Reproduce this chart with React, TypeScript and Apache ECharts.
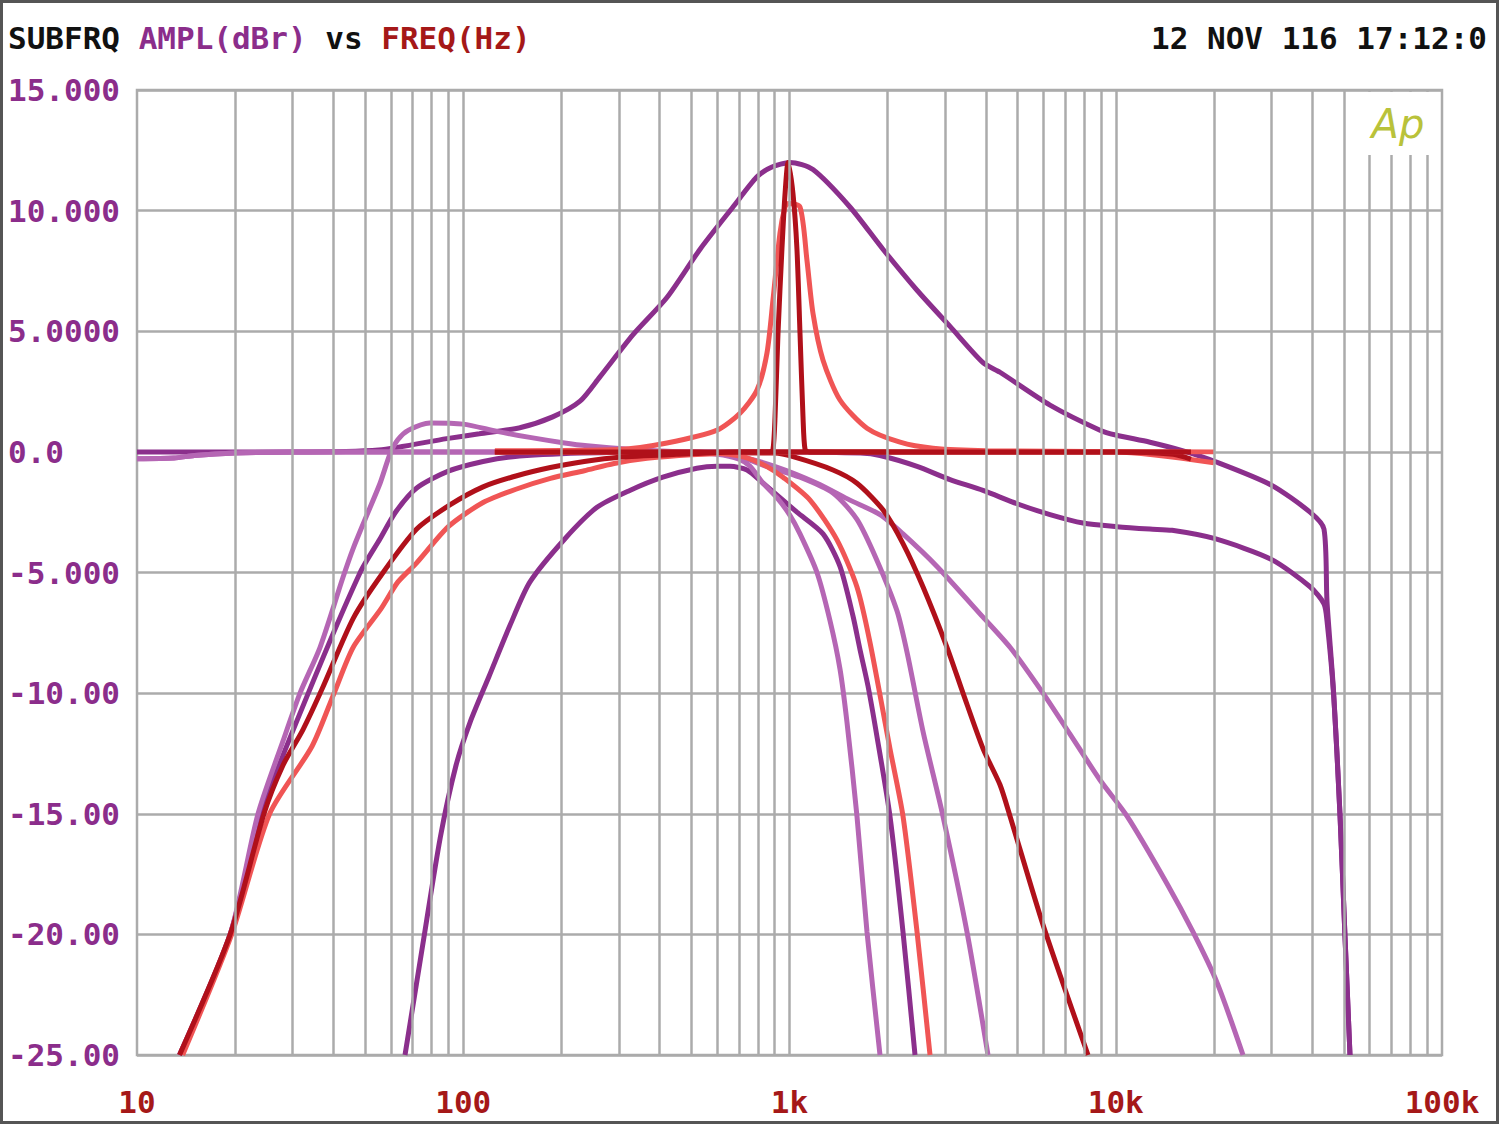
import React, { useEffect, useRef } from "react";
import * as echarts from "echarts";

// ---------- axis ticks ----------
const xTickValues = [10, 100, 1000, 10000, 100000];
const xTickLabels = ["10", "100", "1k", "10k", "100k"];
const yTickValues = [15, 10, 5, 0, -5, -10, -15, -20, -25];
const yTickLabels = ["15.000", "10.000", "5.0000", "0.0", "-5.000", "-10.00", "-15.00", "-20.00", "-25.00"];
const gridFreqs = [
  20, 30, 40, 50, 60, 70, 80, 90, 100,
  200, 300, 400, 500, 600, 700, 800, 900, 1000,
  2000, 3000, 4000, 5000, 6000, 7000, 8000, 9000, 10000,
  20000, 30000, 40000, 50000, 60000, 70000, 80000, 90000,
];

// ---------- series values: [frequency Hz, level dBr] ----------
// dark purple: wide-Q peak
const peakWide = [[10,0],[30,0],[55,0.08],[89,0.55],[112,0.75],[149,1.0],[188,1.45],[228,2.1],[262,3.1],[331,4.85],[421,6.4],[532,8.4],[671,10.15],[795,11.4],[880,11.8],[1004,12.0],[1180,11.7],[1532,10.15],[1934,8.4],[2460,6.7],[3105,5.2],[3919,3.7],[4418,3.3],[6288,1.94],[8948,0.9],[10000,0.7],[12730,0.4],[16000,0.05],[20150,-0.4],[29920,-1.37],[39400,-2.5],[43480,-3.2],[44410,-6.2],[46500,-9.9],[48700,-15.1],[50430,-20.1],[52240,-25]];
// dark purple: high-pass with high-frequency droop
const hpPurple = [[13.5,-25],[19.3,-20],[24,-15],[33.5,-10],[48.3,-5],[55.6,-3.6],[62,-2.5],[72,-1.5],[90,-0.8],[115,-0.4],[142,-0.2],[230,-0.05],[400,0],[1000,0],[1650,-0.05],[1894,-0.15],[2460,-0.6],[3105,-1.15],[3919,-1.6],[4982,-2.15],[6288,-2.6],[7936,-2.95],[10070,-3.1],[12730,-3.2],[14880,-3.25],[20150,-3.6],[29920,-4.45],[39500,-5.6],[43480,-6.3],[44410,-7.0],[46500,-10],[48700,-15.1],[50430,-20.1],[52240,-25]];
// dark purple: band-pass
const bpPurple = [[66.3,-25],[75,-20.5],[85,-16],[95,-13],[105,-11.2],[120,-9.3],[139,-7.2],[160,-5.4],[205,-3.6],[257,-2.3],[324,-1.6],[409,-1.05],[520,-0.68],[600,-0.6],[657,-0.6],[741,-0.75],[830,-1.3],[1054,-2.5],[1267,-3.4],[1428,-4.75],[1565,-6.8],[1645,-8.2],[1740,-9.7],[1854,-11.8],[2032,-15.1],[2228,-19.9],[2425,-25]];
// orchid: high-pass with bump, then low-pass
const bpOrchid = [[13.5,-25],[19.3,-20],[23.5,-15],[28,-12],[31.6,-10],[36.4,-8.1],[42.8,-5.2],[46,-4],[50,-2.8],[55.6,-1.3],[59.6,-0.1],[63,0.5],[68,0.9],[79,1.2],[100,1.15],[127,0.85],[160,0.6],[202,0.38],[240,0.25],[330,0.1],[460,0],[600,-0.1],[700,-0.3],[757,-0.6],[830,-1.3],[915,-1.9],[1000,-2.6],[1077,-3.4],[1214,-5.0],[1331,-7.0],[1428,-9.0],[1500,-11.2],[1610,-15.1],[1728,-19.9],[1894,-25]];
// orchid: low-pass 2
const lpOrchid2 = [[10,-0.28],[13,-0.25],[15,-0.15],[20,-0.05],[30,0],[500,0],[700,-0.2],[850,-0.6],[1077,-1.05],[1359,-1.7],[1610,-2.8],[1854,-4.5],[2136,-6.6],[2300,-8.4],[2567,-11.6],[2954,-15.1],[3500,-19.9],[4059,-25]];
// orchid: low-pass 3
const lpOrchid3 = [[10,-0.28],[13,-0.25],[15,-0.15],[20,-0.05],[30,0],[500,0],[700,-0.2],[900,-0.6],[1214,-1.3],[1532,-2.0],[1894,-2.6],[2228,-3.4],[2832,-4.75],[3919,-6.85],[4742,-8.1],[5984,-10.0],[7240,-11.7],[8948,-13.6],[10830,-15.1],[14360,-17.9],[17250,-19.9],[20440,-22.0],[24550,-25]];
// dark red: high-pass
const hpRed = [[13.5,-25],[19.3,-20],[24.5,-15],[28,-13],[32.3,-11.5],[37,-9.8],[46,-6.9],[56.8,-5],[72,-3.2],[91,-2.2],[115,-1.45],[145,-1.0],[185,-0.65],[235,-0.4],[300,-0.22],[450,-0.1],[700,0],[10000,0],[15000,-0.1],[17000,-0.3]];
// dark red: narrow-Q peak
const peakNarrow = [[125,0],[870,0],[890,0.1],[903,1.45],[922,4.9],[948,8.4],[969,10.7],[990,12.0],[1025,10.7],[1054,8.4],[1077,4.9],[1100,1.45],[1116,0.1],[1150,0],[17000,0]];
// dark red: low-pass
const lpRed = [[125,0],[900,-0.05],[1025,-0.2],[1359,-0.75],[1610,-1.3],[1934,-2.4],[2228,-3.8],[2567,-5.6],[3039,-8.1],[3403,-10],[3919,-12.3],[4418,-13.8],[4742,-15.1],[5984,-19.6],[8222,-25]];
// salmon: high-pass
const hpSalmon = [[13.8,-25],[19.5,-20],[25.5,-15],[34.4,-12.2],[40.2,-10],[46,-8.1],[56,-6.5],[63,-5.4],[72,-4.6],[90,-3.1],[115,-2.1],[145,-1.55],[185,-1.1],[235,-0.78],[290,-0.48],[366,-0.27],[500,-0.12],[800,0],[10000,0],[20000,-0.45]];
// salmon: medium-Q peak
const peakMedium = [[125,0.05],[300,0.1],[421,0.37],[600,0.9],[705,1.6],[795,2.56],[853,4.1],[890,6.3],[935,9.07],[969,10.15],[990,10.3],[1077,10.15],[1131,7.95],[1180,5.75],[1267,3.8],[1428,2.15],[1728,0.98],[2182,0.4],[2754,0.15],[4000,0.05],[20000,0]];
// salmon: low-pass
const lpSalmon = [[125,0],[500,0],[650,-0.1],[741,-0.25],[850,-0.6],[955,-1.05],[1156,-2.0],[1398,-3.65],[1610,-5.6],[1765,-7.9],[2032,-12.3],[2228,-15.1],[2460,-19.9],[2696,-25]];

const PURPLE = "#8B2F8C";
const ORCHID = "#B566B4";
const DARKRED = "#B0101A";
const SALMON = "#F05555";
const GRID = "#ABABAB";
const MONO = '"DejaVu Sans Mono", "Liberation Mono", monospace';

const curves: [any[], string][] = [
  [bpPurple, PURPLE],
  [hpPurple, PURPLE],
  [peakWide, PURPLE],
  [lpOrchid3, ORCHID],
  [lpOrchid2, ORCHID],
  [bpOrchid, ORCHID],
  [lpRed, DARKRED],
  [lpSalmon, SALMON],
  [hpSalmon, SALMON],
  [hpRed, DARKRED],
  [peakMedium, SALMON],
  [peakNarrow, DARKRED],
];

export default function App() {
  const ref = useRef<HTMLDivElement>(null);
  useEffect(() => {
    if (!ref.current) return;
    const chart = echarts.init(ref.current, null, { renderer: "svg" });
    const series: any[] = [
      {
        type: "line",
        data: [],
        silent: true,
        z: 1,
        markLine: {
          silent: true,
          symbol: ["none", "none"],
          label: { show: false },
          lineStyle: { color: GRID, width: 2.5, type: "solid" },
          emphasis: { disabled: true },
          data: gridFreqs.map((f) => ({ xAxis: f })),
        },
      },
      ...curves.map(([d, c]) => ({
        type: "line",
        data: d,
        showSymbol: false,
        symbol: "none",
        silent: true,
        smooth: 0.25,
        z: 3,
        lineStyle: { color: c, width: 5 },
        itemStyle: { color: c },
      })),
    ];
    const font = `bold 31px ${MONO}`;
    chart.setOption({
      animation: false,
      backgroundColor: "#ffffff",
      grid: {
        left: 137,
        right: 58,
        top: 90,
        bottom: 70,
        show: true,
        borderColor: GRID,
        borderWidth: 2.5,
        outerBoundsMode: "none",
        containLabel: false,
      },
      xAxis: {
        type: "log",
        logBase: 10,
        min: 10,
        max: 100000,
        axisLine: { show: false },
        axisTick: { show: false },
        splitLine: { show: false },
        axisLabel: {
          color: "#A51818",
          fontFamily: MONO,
          fontWeight: "bold",
          fontSize: 31,
          margin: 31,
          formatter: (v: number) => {
            const i = xTickValues.findIndex((t) => Math.abs(t - v) / t < 1e-6);
            return i >= 0 ? xTickLabels[i] : "";
          },
        },
      },
      yAxis: {
        type: "value",
        min: -25,
        max: 15,
        interval: 5,
        axisLine: { show: false },
        axisTick: { show: false },
        splitLine: { show: true, lineStyle: { color: GRID, width: 2.5 } },
        axisLabel: {
          color: "#8B2D8B",
          fontFamily: MONO,
          fontWeight: "bold",
          fontSize: 31,
          align: "left",
          margin: 129,
          formatter: (v: number) => {
            const i = yTickValues.findIndex((t) => Math.abs(t - v) < 1e-6);
            return i >= 0 ? yTickLabels[i] : "";
          },
        },
      },
      series,
      graphic: [
        {
          type: "rect",
          z: 100,
          silent: true,
          shape: { x: 1358, y: 92, width: 80, height: 63 },
          style: { fill: "#ffffff" },
        },
        {
          type: "text",
          z: 101,
          silent: true,
          style: {
            text: "Ap",
            x: 1398,
            y: 124,
            fill: "#B9C23A",
            font: 'italic 200 40px "DejaVu Sans"',
            textAlign: "center",
            textVerticalAlign: "middle",
          },
        },
        {
          type: "text",
          z: 101,
          silent: true,
          style: {
            text: "{k|SUBFRQ} {p|AMPL(dBr)} {k|vs} {r|FREQ(Hz)}",
            x: 8,
            y: 38,
            font,
            fill: "#111111",
            textVerticalAlign: "middle",
            rich: {
              k: { fill: "#111111", font },
              p: { fill: "#8B2D8B", font },
              r: { fill: "#A51818", font },
            },
          },
        },
        {
          type: "text",
          z: 101,
          silent: true,
          style: {
            text: "12 NOV 116 17:12:0",
            x: 1487,
            y: 38,
            font,
            fill: "#111111",
            textAlign: "right",
            textVerticalAlign: "middle",
          },
        },
        {
          type: "rect",
          z: 100,
          silent: true,
          shape: { x: 1.5, y: 1.5, width: 1496, height: 1121 },
          style: { fill: "none", stroke: "#555555", lineWidth: 3 },
        },
      ],
    });
    return () => chart.dispose();
  }, []);
  return (
    <div
      ref={ref}
      style={{ position: "absolute", left: 0, top: 0, width: 1500, height: 1125, background: "#fff" }}
    />
  );
}
